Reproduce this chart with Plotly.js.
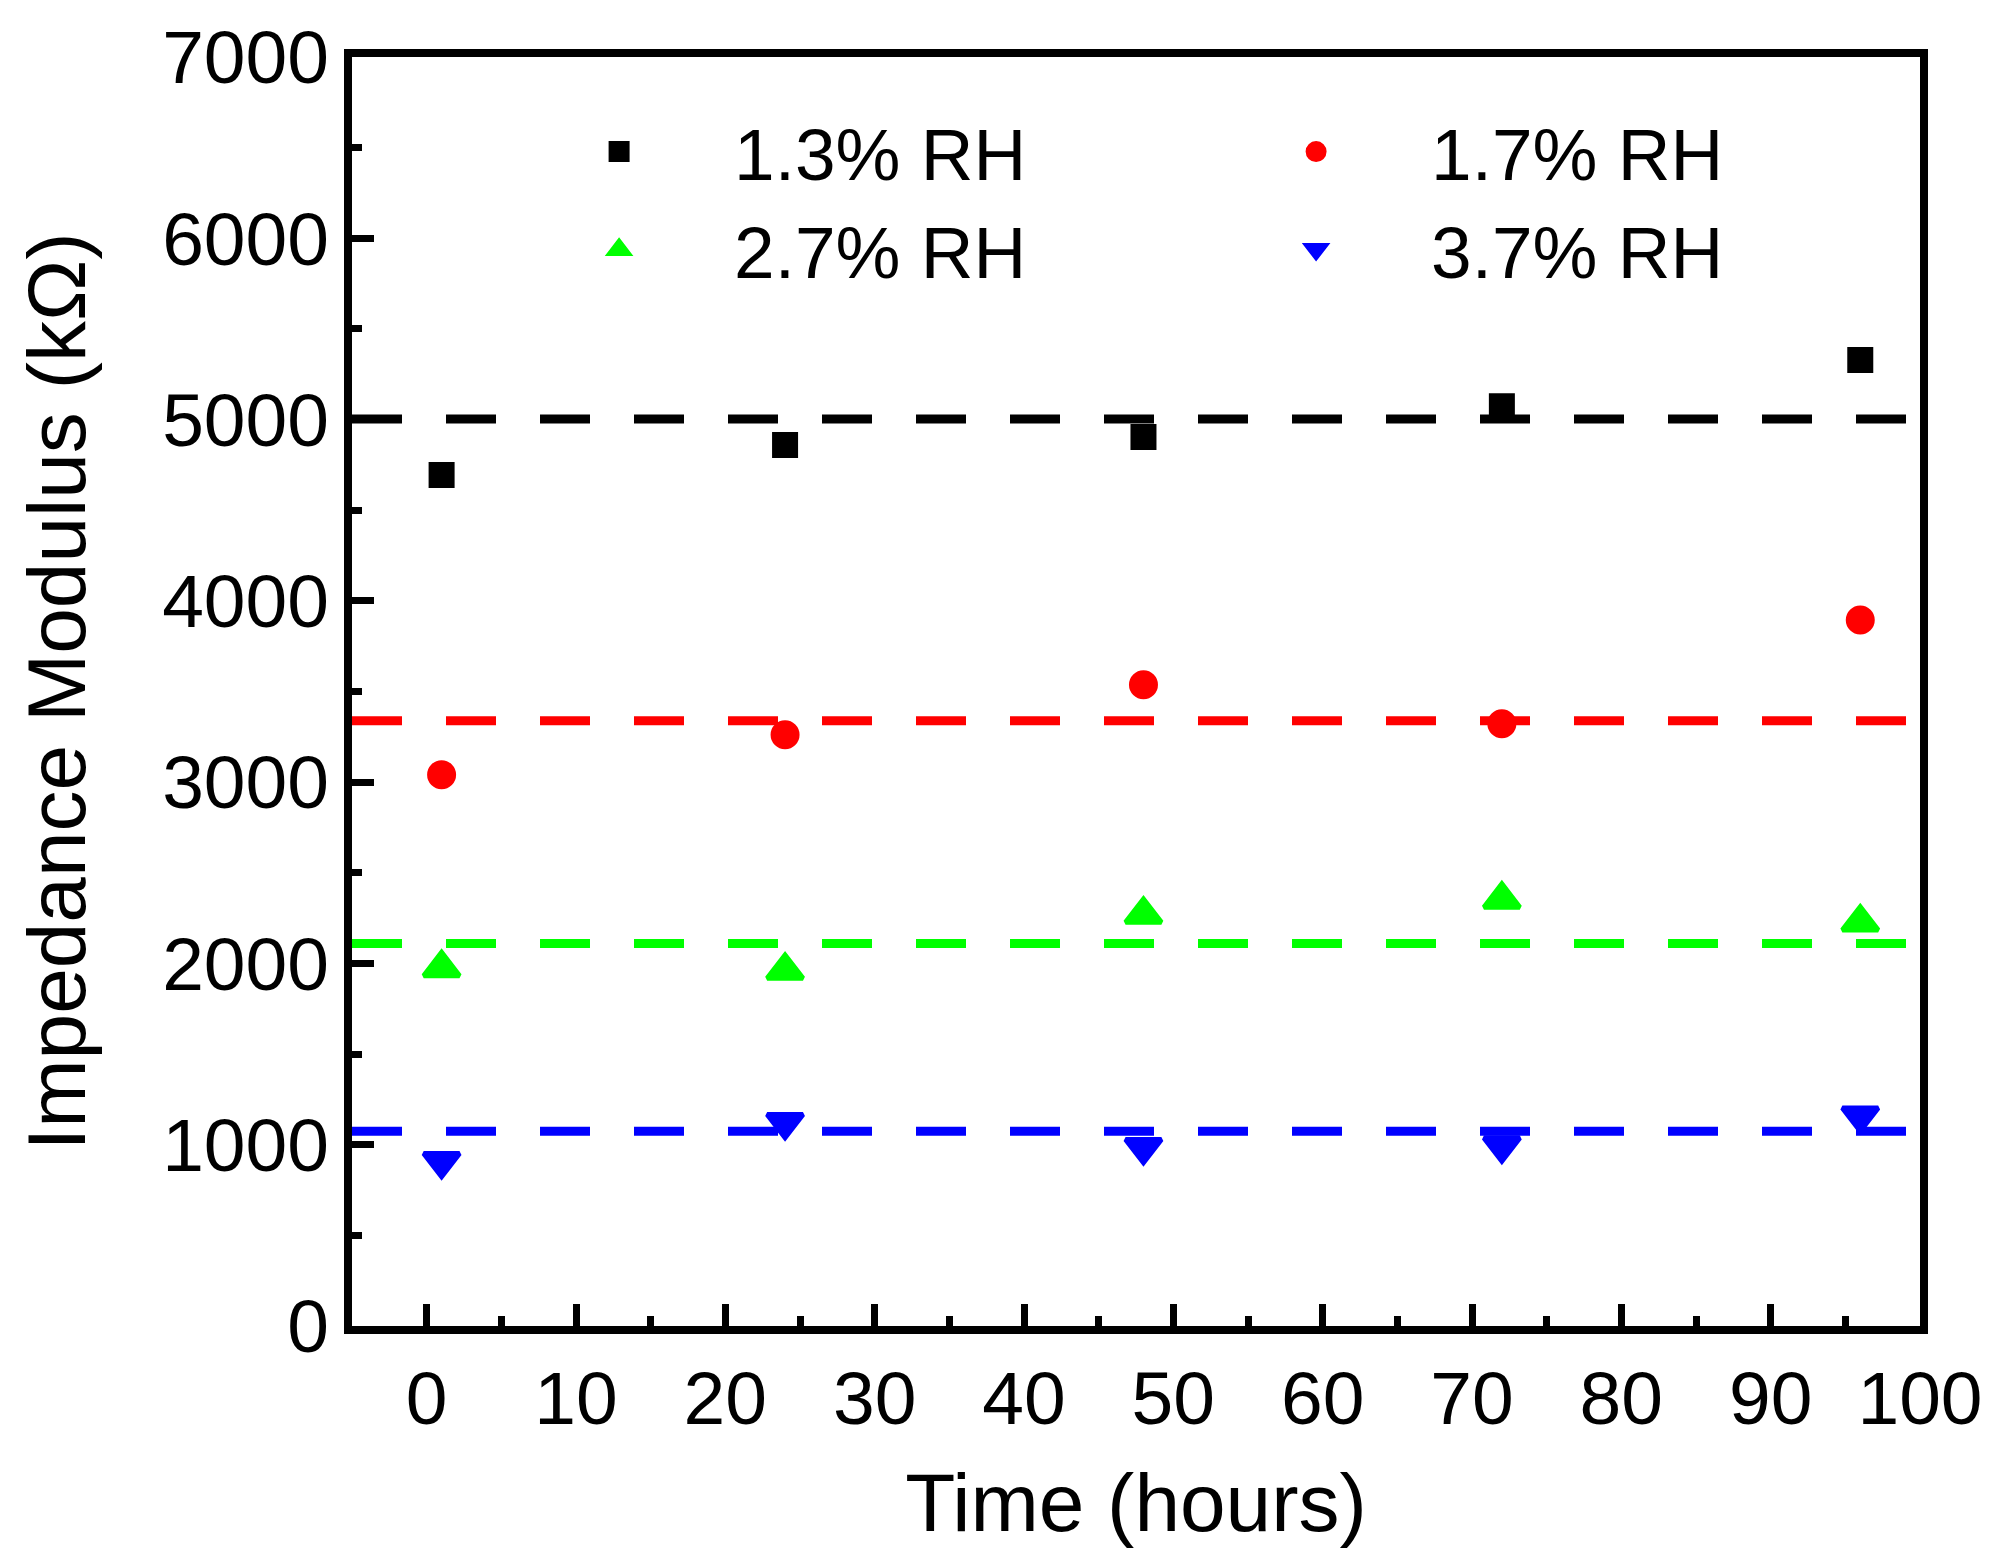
<!DOCTYPE html>
<html>
<head>
<meta charset="utf-8">
<script src="https://cdn.plot.ly/plotly-3.0.1.min.js"></script>
<style>
  html, body { margin: 0; padding: 0; background: #fff; }
  #chart { width: 1994px; height: 1556px; }
</style>
</head>
<body>
<div id="chart"></div>
<script>
// time points (hours)
const timeHours = [1, 24, 48, 72, 96];

// impedance modulus (kOhm)
const rh13 = [4694, 4860, 4904, 5074, 5328];
const rh17 = [3041, 3262, 3537, 3322, 3895];
const rh27 = [1975, 1961, 2270, 2353, 2227];
const rh37 = [909, 1124, 986, 995, 1160];

// dashed reference levels, same order as above
const levels = [5003, 3339, 2110, 1074];
const levelSpan = [-5, 100];

const seriesNames = ['1.3% RH', '1.7% RH', '2.7% RH', '3.7% RH'];
const seriesColors = ['#000000', '#ff0000', '#00ff00', '#0000ff'];
const seriesSymbols = ['square', 'circle', 'triangle-up', 'triangle-down'];
const seriesSizes = [21, 24, 31, 31];

let allValues = [rh13, rh17, rh27, rh37];
let data = [];

// dashed lines first so the markers sit on top
for (let i = 0; i < levels.length; i++) {
  data.push({
    x: levelSpan,
    y: [levels[i], levels[i]],
    type: 'scatter',
    mode: 'lines',
    line: {color: seriesColors[i], width: 9, dash: '50px,44px'},
    showlegend: false,
    hoverinfo: 'skip',
  });
}

for (let i = 0; i < allValues.length; i++) {
  data.push({
    x: timeHours,
    y: allValues[i],
    name: seriesNames[i],
    type: 'scatter',
    mode: 'markers',
    marker: {
      symbol: seriesSymbols[i],
      size: seriesSizes[i],
      color: seriesColors[i],
      line: {color: seriesColors[i], width: 5},
    },
  });
}

let axisCommon = {
  showline: true,
  linecolor: '#000',
  linewidth: 8,
  mirror: true,
  showgrid: false,
  zeroline: false,
  ticks: 'inside',
  ticklen: 22,
  tickwidth: 7,
  tickcolor: '#000',
  tickfont: {family: 'Liberation Sans, Arial, sans-serif', size: 75, color: '#000'},
};

let layout = {
  width: 1994,
  height: 1556,
  margin: {l: 352, r: 74, t: 57, b: 230},
  paper_bgcolor: '#fff',
  plot_bgcolor: '#fff',
  font: {family: 'Liberation Sans, Arial, sans-serif', color: '#000'},
  xaxis: Object.assign({}, axisCommon, {
    range: [-5, 100],
    tick0: 0,
    dtick: 10,
    minor: {ticks: 'inside', ticklen: 10, tickwidth: 7, tickcolor: '#000', dtick: 5, tick0: 0},
    title: {text: 'Time (hours)', font: {size: 82}, standoff: 38},
  }),
  yaxis: Object.assign({}, axisCommon, {
    range: [0, 7000],
    tick0: 0,
    dtick: 1000,
    minor: {ticks: 'inside', ticklen: 10, tickwidth: 7, tickcolor: '#000', dtick: 500, tick0: 0},
    title: {text: 'Impedance Modulus (kΩ)', font: {size: 82}, standoff: 52},
  }),
  legend: {
    orientation: 'h',
    x: 0.097,
    xanchor: 'left',
    y: 0.968,
    yanchor: 'top',
    bgcolor: 'rgba(0,0,0,0)',
    borderwidth: 0,
    itemwidth: 220,
    entrywidth: 462,
    entrywidthmode: 'pixels',
    font: {family: 'Liberation Sans, Arial, sans-serif', size: 73, color: '#000'},
  },
  showlegend: true,
};

Plotly.newPlot('chart', data, layout, {displayModeBar: false, staticPlot: true});
</script>
</body>
</html>
